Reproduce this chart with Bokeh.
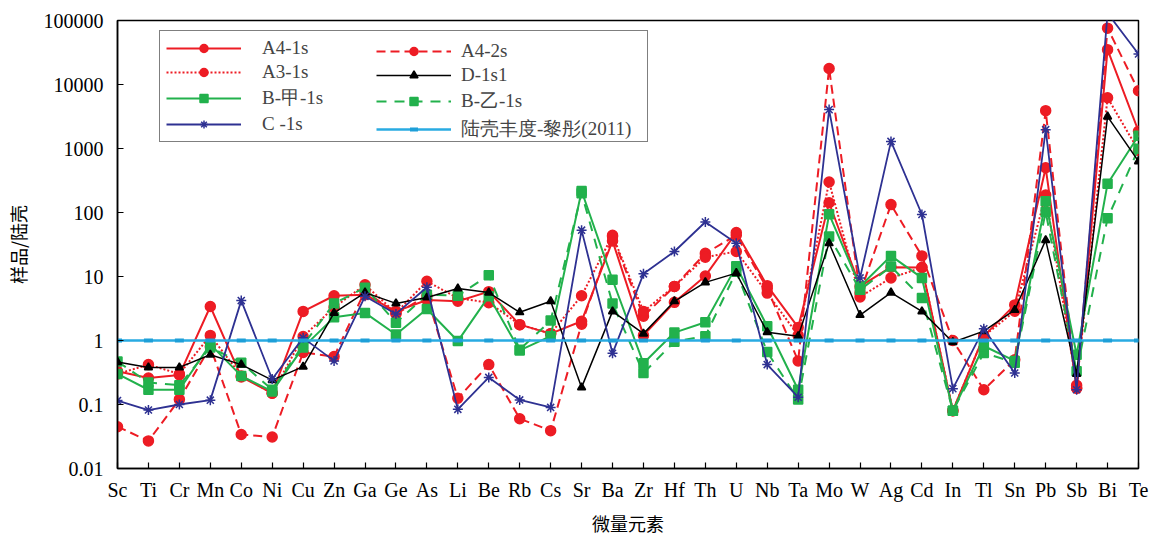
from bokeh.plotting import figure
from bokeh.models import (ColumnDataSource, FixedTicker, CustomJSTickFormatter,
                          Legend, LegendItem, Range1d)
from bokeh.embed import file_html
from bokeh.resources import INLINE

# Trace elements along the x axis
elements = ["Sc", "Ti", "Cr", "Mn", "Co", "Ni", "Cu", "Zn", "Ga", "Ge", "As", "Li",
            "Be", "Rb", "Cs", "Sr", "Ba", "Zr", "Hf", "Th", "U", "Nb", "Ta", "Mo",
            "W", "Ag", "Cd", "In", "Tl", "Sn", "Pb", "Sb", "Bi", "Te"]

# Sample / continental crust ratios
a4_1s = [0.33, 0.26, 0.29, 3.4, 0.27, 0.15, 2.85, 5.0, 5.2, 2.85, 4.3, 4.1,
         5.8, 1.77, 1.28, 2.0, 36, 1.2, 3.95, 10.2, 48.5, 7.2, 1.6, 142,
         7.0, 14, 13.8, 0.08, 1.17, 3.6, 500, 0.18, 35000, 1860]
a4_2s = [0.045, 0.027, 0.12, 0.8, 0.034, 0.031, 0.65, 0.56, 6.0, 2.6, 5.0, 0.125,
         0.42, 0.06, 0.039, 1.8, 42, 2.4, 7.0, 23, 44, 6.5, 0.48, 17800,
         5.5, 133, 21, 1.0, 0.17, 0.5, 3900, 0.18, 76000, 8000]
a3_1s = [0.30, 0.42, 0.30, 1.2, 0.28, 0.15, 1.15, 3.3, 7.4, 2.7, 8.4, 4.6,
         3.9, 1.77, 1.28, 5.0, 44, 2.85, 7.0, 20, 24.6, 5.5, 1.2, 300,
         4.8, 9.5, 13.8, 0.08, 1.17, 2.86, 187, 0.2, 6200, 930]
d_1s1 = [0.46, 0.38, 0.38, 0.6, 0.42, 0.24, 0.39, 2.7, 5.6, 3.8, 4.7, 6.5,
         5.6, 2.76, 4.1, 0.185, 2.85, 1.28, 4.1, 8.1, 11.3, 1.35, 1.17, 33,
         2.5, 5.6, 2.85, 0.94, 1.4, 3.0, 37, 0.3, 3150, 630]
b_jia_1s = [0.30, 0.17, 0.17, 0.87, 0.28, 0.16, 0.78, 2.3, 2.7, 1.24, 3.1, 0.98,
            4.9, 0.7, 1.17, 217, 8.9, 0.44, 1.33, 1.93, 14.4, 1.67, 0.17, 94,
            7.0, 21, 9.5, 0.08, 0.82, 0.48, 150, 0.6, 282, 1580]
b_yi_1s = [0.47, 0.22, 0.20, 0.78, 0.45, 0.17, 0.85, 3.8, 6.7, 1.9, 5.2, 5.0,
           10.5, 0.72, 2.05, 200, 3.8, 0.31, 0.96, 1.17, 11.9, 0.66, 0.12, 42,
           6.2, 14.3, 4.6, 0.08, 0.64, 0.45, 102, 0.33, 81, 990]
c_1s = [0.115, 0.082, 0.10, 0.117, 4.2, 0.25, 1.1, 0.48, 4.9, 2.6, 6.8, 0.084,
        0.265, 0.118, 0.09, 53, 0.63, 11, 24.6, 71, 33, 0.42, 0.13, 4050,
        9.5, 1290, 93, 0.177, 1.52, 0.31, 1970, 0.17, 130000, 30000]
crust = [1, 1, 1, 1, 1, 1, 1, 1, 1, 1, 1, 1, 1, 1, 1, 1, 1,
         1, 1, 1, 1, 1, 1, 1, 1, 1, 1, 1, 1, 1, 1, 1, 1, 1]

y_ticks = [0.01, 0.1, 1, 10, 100, 1000, 10000, 100000]

RED = "#ED1C24"
GREEN = "#22B14C"
NAVY = "#2E3192"
SKY = "#29ABE2"
SERIF = "Liberation Serif"
CJK = "Noto Sans CJK SC"

xs = list(range(len(elements)))

p = figure(width=1165, height=538, y_axis_type="log",
           x_range=Range1d(0, len(elements) - 1), y_range=Range1d(0.01, 100000),
           output_backend="svg", toolbar_location=None,
           min_border_left=117, min_border_right=27,
           min_border_top=20, min_border_bottom=68)
p.background_fill_color = "white"
p.border_fill_color = "white"
p.outline_line_color = "black"
p.outline_line_width = 1.5
p.xgrid.visible = False
p.ygrid.visible = False

# x axis: element symbols
p.xaxis.ticker = FixedTicker(ticks=xs)
p.xaxis.major_label_overrides = {i: e for i, e in enumerate(elements)}
p.xaxis.axis_label = "微量元素"

# y axis: plain decade labels
p.yaxis.ticker = FixedTicker(ticks=y_ticks)
p.yaxis.formatter = CustomJSTickFormatter(code="return String(tick)")
p.yaxis.axis_label = "样品/陆壳"

for ax in (p.xaxis, p.yaxis):
    ax.major_tick_in = 6
    ax.major_tick_out = 0
    ax.minor_tick_line_color = None
    ax.axis_line_color = "black"
    ax.axis_line_width = 1.5
    ax.major_tick_line_color = "black"
    ax.major_tick_line_width = 1.2
    ax.major_label_text_font = SERIF
    ax.major_label_text_font_size = "20px"
    ax.major_label_text_color = "black"
    ax.axis_label_text_font = CJK
    ax.axis_label_text_font_size = "18px"
    ax.axis_label_text_font_style = "normal"
    ax.axis_label_text_color = "black"

p.xaxis.major_label_standoff = 10
p.xaxis.axis_label_standoff = 6
p.yaxis.major_label_standoff = 14
p.yaxis.axis_label_standoff = 10


def add_series(vals, color, dash, marker, size, lw=2.0):
    src = ColumnDataSource(dict(x=xs, y=vals))
    ln = p.line("x", "y", source=src, line_color=color, line_width=lw, line_dash=dash)
    mk = p.scatter("x", "y", source=src, marker=marker, size=size,
                   fill_color=color, line_color=color, line_width=1.5)
    return [ln, mk]


r_a4_2s = add_series(a4_2s, RED, "9 5", "circle", 10)
r_a3_1s = add_series(a3_1s, RED, "2 2", "circle", 10)
r_a4_1s = add_series(a4_1s, RED, "solid", "circle", 10)
r_b_yi = add_series(b_yi_1s, GREEN, "10 8", "square", 9)
r_b_jia = add_series(b_jia_1s, GREEN, "solid", "square", 9)
r_d = add_series(d_1s1, "black", "solid", "triangle", 8, lw=1.5)
r_c = add_series(c_1s, NAVY, "solid", "asterisk", 10, lw=1.8)

src_crust = ColumnDataSource(dict(x=xs, y=crust))
ln_crust = p.line("x", "y", source=src_crust, line_color=SKY, line_width=2.5)
mk_crust = p.scatter("x", "y", source=src_crust, marker="dash", size=9,
                     line_color="#1E9FD8", line_width=4)
r_crust = [ln_crust, mk_crust]

legend_style = dict(
    label_text_font=SERIF, label_text_font_size="19px",
    glyph_width=75, glyph_height=20, label_height=20, spacing=2, padding=6,
    margin=0,
)

left_legend = Legend(
    items=[LegendItem(label="A4-1s", renderers=r_a4_1s),
           LegendItem(label="A3-1s", renderers=r_a3_1s),
           LegendItem(label="B-甲-1s", renderers=r_b_jia),
           LegendItem(label="C -1s", renderers=r_c)],
    location=(42, 326), label_standoff=21, label_width=379,
    border_line_color="black", border_line_width=1.2,
    background_fill_color="white", background_fill_alpha=1.0,
    **legend_style)

right_legend = Legend(
    items=[LegendItem(label="A4-2s", renderers=r_a4_2s),
           LegendItem(label="D-1s1", renderers=r_d),
           LegendItem(label="B-乙-1s", renderers=r_b_yi),
           LegendItem(label="陆壳丰度-黎彤(2011)", renderers=r_crust)],
    location=(259, 326), label_standoff=10,
    border_line_color=None, background_fill_alpha=0.0,
    **legend_style)

p.add_layout(left_legend, "center")
p.add_layout(right_legend, "center")

open("out.html", "w").write(file_html(p, INLINE))
